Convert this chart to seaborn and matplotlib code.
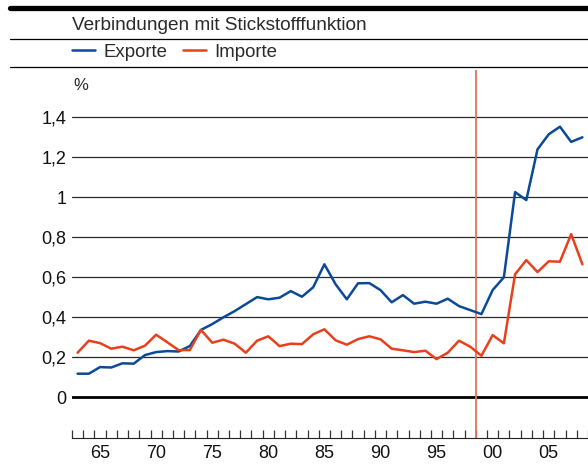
import numpy as np
import pandas as pd
import matplotlib
matplotlib.use("Agg")
import matplotlib.pyplot as plt
from matplotlib.lines import Line2D
import seaborn as sns

# Anteil der Verbindungen mit Stickstofffunktion, in %
years = list(range(1963, 2009))
exporte = [0.118, 0.118, 0.151, 0.149, 0.170, 0.168, 0.211, 0.226, 0.231, 0.229,
           0.256, 0.337, 0.366, 0.400, 0.431, 0.466, 0.501, 0.490, 0.498, 0.531,
           0.503, 0.550, 0.665, 0.565, 0.490, 0.570, 0.571, 0.536, 0.475, 0.511,
           0.468, 0.478, 0.468, 0.493, 0.456, 0.436, 0.416, 0.536, 0.600, 1.026,
           0.986, 1.240, 1.315, 1.353, 1.277, 1.300]
importe = [0.223, 0.283, 0.271, 0.243, 0.253, 0.235, 0.258, 0.313, 0.275, 0.236,
           0.236, 0.337, 0.273, 0.288, 0.268, 0.223, 0.283, 0.305, 0.256, 0.268,
           0.266, 0.315, 0.340, 0.285, 0.263, 0.291, 0.305, 0.290, 0.243, 0.235,
           0.226, 0.233, 0.191, 0.223, 0.283, 0.253, 0.208, 0.311, 0.270, 0.615,
           0.686, 0.626, 0.680, 0.678, 0.816, 0.665]
series_names = ["Exporte", "Importe"]
y_ticks = [0, 0.2, 0.4, 0.6, 0.8, 1.0, 1.2, 1.4]
y_tick_labels = ["0", "0,2", "0,4", "0,6", "0,8", "1", "1,2", "1,4"]
x_label_years = [1965, 1970, 1975, 1980, 1985, 1990, 1995, 2000, 2005]
x_tick_labels = ["65", "70", "75", "80", "85", "90", "95", "00", "05"]
break_year = 1998.5
title = "Verbindungen mit Stickstofffunktion"

df = pd.DataFrame({
    "Jahr": years * 2,
    "Wert": exporte + importe,
    "Reihe": [series_names[0]] * len(years) + [series_names[1]] * len(years),
})

sns.set_theme(style="white")
plt.rcParams["font.family"] = ["Liberation Sans", "DejaVu Sans"]
FS = 13

W, H = 588, 466
fig = plt.figure(figsize=(W / 100, H / 100), dpi=100)

def fx(px):
    return px / W

def fy(py):
    return 1 - py / H

ax = fig.add_axes([fx(72), fy(438), fx(588) - fx(72), fy(70) - fy(438)])

blue = "#0b4a98"
red = "#e8401c"
sns.lineplot(data=df, x="Jahr", y="Wert", hue="Reihe", palette=[blue, red],
             linewidth=1.8, ax=ax, legend=False, zorder=4)

ax.set_xlim(1962.5, 2008.05)
ax.set_ylim(-0.2035, 1.6365)

# horizontal grid and zero line
for v in y_ticks[1:]:
    ax.axhline(v, color="#2a2a2a", lw=0.9, zorder=1)
ax.axhline(0, color="black", lw=2.0, zorder=2)
ax.axvline(break_year, color="#e8705c", lw=1.3, zorder=3)

ax.set_yticks(y_ticks)
ax.set_yticklabels(y_tick_labels)
ax.tick_params(axis="y", length=0, pad=4, labelsize=FS, labelcolor="#111111")

ax.set_xticks(x_label_years)
ax.set_xticklabels(x_tick_labels)
ax.set_xticks(np.arange(1962.5, 2009, 1.0), minor=True)
ax.tick_params(axis="x", which="major", length=0, pad=5, labelsize=FS, labelcolor="#111111")
ax.tick_params(axis="x", which="minor", direction="in", length=5.5, width=0.9,
               color="#333333", bottom=True)
ax.set_xlabel("")
ax.set_ylabel("")

for s in ["top", "right", "left"]:
    ax.spines[s].set_visible(False)
ax.spines["bottom"].set_color("#222222")
ax.spines["bottom"].set_linewidth(0.8)

# header rules
fig.add_artist(Line2D([fx(10), 1], [fy(7.5), fy(7.5)], color="black", lw=3.8))
fig.add_artist(Line2D([fx(10), 1], [fy(38.5), fy(38.5)], color="black", lw=0.9))
fig.add_artist(Line2D([fx(10), 1], [fy(66.5), fy(66.5)], color="black", lw=0.9))

fig.text(fx(72), fy(25), title, fontsize=13.7, va="center", ha="left", color="#2a2a2a")
fig.text(fx(73), fy(85), "%", fontsize=FS - 1, va="center", ha="left", color="#2a2a2a")

handles = [Line2D([], [], color=blue, lw=1.8), Line2D([], [], color=red, lw=1.8)]
fig.legend(handles, series_names, loc="center left",
           bbox_to_anchor=(fx(72), fy(52)), ncol=2, frameon=False,
           borderaxespad=0, borderpad=0, handlelength=1.25, handletextpad=0.45,
           columnspacing=0.8, fontsize=13.4, labelcolor="#2a2a2a")

fig.savefig("out.png", dpi=100)
